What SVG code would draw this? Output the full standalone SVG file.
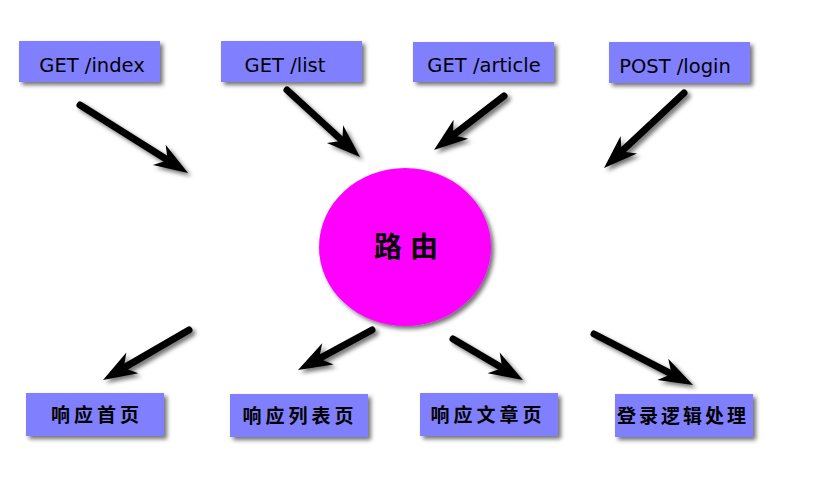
<svg xmlns="http://www.w3.org/2000/svg" width="818" height="489" viewBox="0 0 818 489">
<style>
.box{fill:#8080FF;}
.lat{font-family:"DejaVu Sans","Liberation Sans",sans-serif;font-size:19.5px;fill:#000;}
.cjk{font-family:"Noto Sans CJK SC","Noto Sans CJK TC",sans-serif;font-size:19px;font-weight:bold;fill:#000;letter-spacing:4px;}
.conn{stroke:#000;stroke-width:7;stroke-linecap:round;fill:none;marker-end:url(#ah);}
</style>
<defs>
<filter id="sh" x="-20%" y="-20%" width="150%" height="160%">
<feDropShadow dx="3" dy="3" stdDeviation="2" flood-color="#000" flood-opacity="0.55"/>
</filter>
<marker id="ah" markerUnits="userSpaceOnUse" markerWidth="60" markerHeight="40" refX="0" refY="0" viewBox="-20 -20 60 40" orient="auto" overflow="visible">
<path d="M20,0 L-14,-12 L-4,0 L-14,12 Z" fill="#000"/>
</marker>
</defs>
<rect width="818" height="489" fill="#fff"/>
<g id="connectors" filter="url(#sh)">
<line class="conn" x1="80" y1="105" x2="171.1" y2="162.3"/>
<line class="conn" x1="287" y1="90" x2="345.3" y2="143.5"/>
<line class="conn" x1="504" y1="96" x2="449.8" y2="137.8"/>
<line class="conn" x1="684" y1="93" x2="618.6" y2="154.3"/>
<line class="conn" x1="189" y1="330" x2="120.3" y2="369.9"/>
<line class="conn" x1="372" y1="330" x2="315.6" y2="360.5"/>
<line class="conn" x1="453" y1="339" x2="505.7" y2="369.9"/>
<line class="conn" x1="594" y1="334" x2="675.2" y2="375.8"/>
</g>
<g id="n-index"><rect class="box" x="19" y="41" width="141" height="41" filter="url(#sh)"/><text class="lat" x="92" y="72" text-anchor="middle">GET /index</text></g>
<g id="n-list"><rect class="box" x="221" y="41" width="141" height="41" filter="url(#sh)"/><text class="lat" x="285" y="72" text-anchor="middle">GET /list</text></g>
<g id="n-article"><rect class="box" x="413" y="42" width="141" height="40" filter="url(#sh)"/><text class="lat" x="484" y="72" text-anchor="middle">GET /article</text></g>
<g id="n-login"><rect class="box" x="609" y="42" width="141" height="41" filter="url(#sh)"/><text class="lat" x="675" y="73" text-anchor="middle">POST /login</text></g>
<g id="n-router"><ellipse cx="405" cy="247" rx="86" ry="79" fill="#FF00FF" filter="url(#sh)"/><text class="cjk" x="410" y="257" text-anchor="middle" style="font-size:28px;letter-spacing:8px">路由</text></g>
<g id="n-home"><rect class="box" x="26" y="393" width="138" height="43" filter="url(#sh)"/><text class="cjk" x="97" y="422" text-anchor="middle">响应首页</text></g>
<g id="n-listpage"><rect class="box" x="230" y="394" width="138" height="43" filter="url(#sh)"/><text class="cjk" x="300" y="423" text-anchor="middle">响应列表页</text></g>
<g id="n-articlepage"><rect class="box" x="420" y="393" width="138" height="43" filter="url(#sh)"/><text class="cjk" x="488" y="422" text-anchor="middle">响应文章页</text></g>
<g id="n-loginproc"><rect class="box" x="615" y="394" width="138" height="43" filter="url(#sh)"/><text class="cjk" x="683" y="423" text-anchor="middle" style="letter-spacing:3px">登录逻辑处理</text></g>
</svg>
